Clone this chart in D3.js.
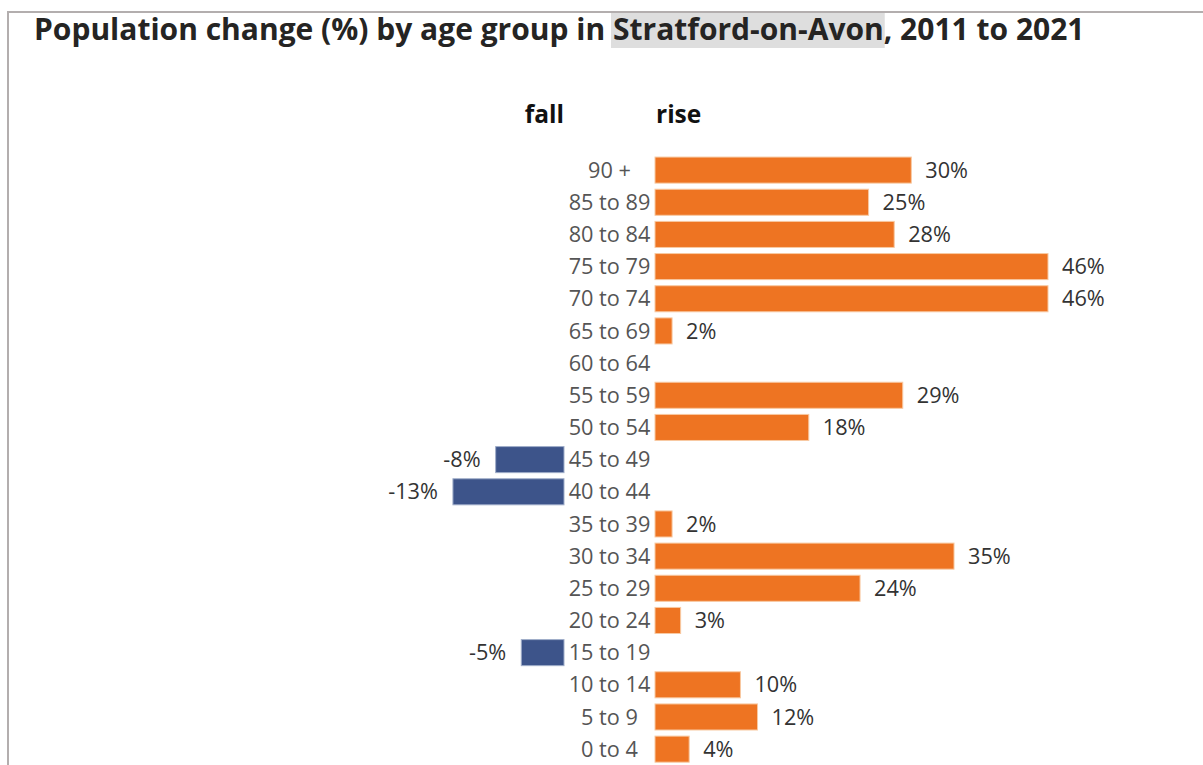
<!DOCTYPE html>
<html lang="en">
<head>
    <meta charset="UTF-8">
    <title>Population change by age group</title>
    <script src="https://d3js.org/d3.v7.min.js"></script>
    <style>
        body { margin: 0; background: #fff; font-family: "Open Sans", sans-serif; }
        svg { display: block; }
        .cat { fill: #555; font-size: 21.7px; }
        .val { fill: #333; font-size: 21.7px; }
        .head { fill: #111; font-size: 24.5px; font-weight: bold; }
    </style>
</head>
<body>
    <svg width="1203" height="765"></svg>

    <script>
        const width = 1203, height = 765;

        // age groups, top to bottom
        const ageGroups = ["90 +", "85 to 89", "80 to 84", "75 to 79", "70 to 74", "65 to 69",
            "60 to 64", "55 to 59", "50 to 54", "45 to 49", "40 to 44", "35 to 39",
            "30 to 34", "25 to 29", "20 to 24", "15 to 19", "10 to 14", "5 to 9", "0 to 4"];
        const changePct = [30, 25, 28, 46, 46, 2, 0, 29, 18, -8, -13, 2, 35, 24, 3, -5, 10, 12, 4];
        const titleParts = ["Population change (%) by age group in ", "Stratford-on-Avon", ", 2011 to 2021"];

        const data = ageGroups.map((g, i) => ({ group: g, value: changePct[i] }));

        const svg = d3.select("svg");

        // frame
        svg.append("path")
            .attr("d", `M8,${height + 5}V12H${width + 5}`)
            .attr("fill", "none")
            .attr("stroke", "#b3aeae")
            .attr("stroke-width", 2);

        // title with highlighted place name
        const hl = svg.append("rect").attr("fill", "#dedede");
        const title = svg.append("text")
            .attr("x", 34).attr("y", 39.5)
            .attr("fill", "#252423")
            .style("font-size", "30px")
            .style("font-weight", "bold");
        titleParts.forEach(t => title.append("tspan").text(t));
        const tn = title.node();
        const hx0 = 34 + tn.getSubStringLength(0, titleParts[0].length);
        const hw = tn.getSubStringLength(titleParts[0].length, titleParts[1].length);
        hl.attr("x", hx0 - 2).attr("y", 13).attr("width", hw + 3).attr("height", 35);

        // scales
        const y = d3.scaleBand()
            .domain(ageGroups)
            .range([154, 154 + 19 * 32.17])
            .paddingInner(0.19)
            .paddingOuter(0.095);

        const xRise = d3.scaleLinear().domain([0, 46]).range([655, 1048]);
        const xFall = d3.scaleLinear().domain([0, -46]).range([564, 564 - 393]);

        // headers
        svg.append("text").attr("class", "head")
            .attr("x", xFall(0)).attr("y", 123).attr("text-anchor", "end").text("fall");
        svg.append("text").attr("class", "head")
            .attr("x", xRise(0) + 1).attr("y", 123).text("rise");

        // bars
        const rise = data.filter(d => d.value > 0);
        const fall = data.filter(d => d.value < 0);

        svg.selectAll(".rise").data(rise).enter().append("rect")
            .attr("class", "rise")
            .attr("x", xRise(0))
            .attr("y", d => y(d.group))
            .attr("width", d => xRise(d.value) - xRise(0))
            .attr("height", y.bandwidth())
            .attr("fill", "#ee7422")
            .attr("stroke", "#f8c9a2")
            .attr("stroke-width", 1);

        svg.selectAll(".fall").data(fall).enter().append("rect")
            .attr("class", "fall")
            .attr("x", d => xFall(d.value))
            .attr("y", d => y(d.group))
            .attr("width", d => xFall(0) - xFall(d.value))
            .attr("height", y.bandwidth())
            .attr("fill", "#3d548a")
            .attr("stroke", "#9fadc9")
            .attr("stroke-width", 1);

        // category labels, centred between the two zero lines
        svg.selectAll(".cat").data(data).enter().append("text")
            .attr("class", "cat")
            .attr("x", 609.5)
            .attr("y", d => y(d.group) + y.bandwidth() / 2)
            .attr("dy", "0.35em")
            .attr("text-anchor", "middle")
            .text(d => d.group);

        // value labels
        svg.selectAll(".val").data(data.filter(d => d.value !== 0)).enter().append("text")
            .attr("class", "val")
            .attr("x", d => d.value > 0 ? xRise(d.value) + 14 : xFall(d.value) - 15)
            .attr("y", d => y(d.group) + y.bandwidth() / 2)
            .attr("dy", "0.35em")
            .attr("text-anchor", d => d.value > 0 ? "start" : "end")
            .text(d => d.value + "%");
    </script>
</body>
</html>
